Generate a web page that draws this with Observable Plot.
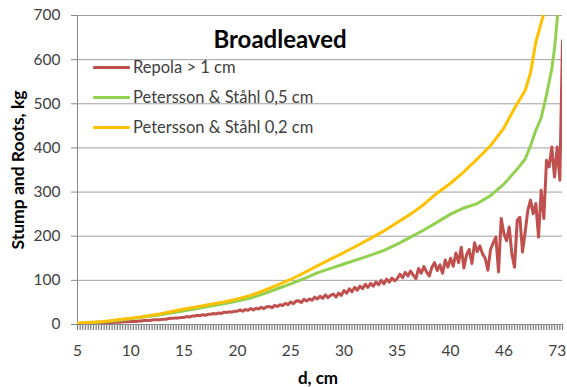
<!DOCTYPE html>
<html>
<head>
<meta charset="utf-8">
<script src="https://cdn.jsdelivr.net/npm/d3@7"></script>
<script src="https://cdn.jsdelivr.net/npm/@observablehq/plot@0.6"></script>
<style>
  body { margin: 0; background: #fff; }
  #chart { position: relative; width: 567px; height: 387px; font-family: Lato, "Open Sans", sans-serif; color: #404040; }
  #chart svg { display: block; }
  .title { position: absolute; left: 280px; top: 38px; transform: translate(-50%, -50%); font-weight: bold; font-size: 24px; color: #000; white-space: nowrap; }
  .ylab { position: absolute; left: 17px; top: 170px; transform: translate(-50%, -50%) rotate(-90deg); font-weight: bold; font-size: 17.5px; color: #000; white-space: nowrap; }
  .xlab { position: absolute; left: 318px; top: 377px; transform: translate(-50%, -50%); font-weight: bold; font-size: 17px; color: #000; white-space: nowrap; }
  .legend { position: absolute; left: 93px; top: 52px; font-size: 16.5px; color: #404040; }
  .legend .row { display: flex; align-items: center; height: 30px; white-space: nowrap; }
  .legend .sw { width: 37px; height: 3px; margin-right: 3px; border-radius: 1px; }
</style>
</head>
<body>
<div id="chart"></div>
<script>
// Diameter classes along the category axis; a tick label every 20 classes
const dTickLabels = ["5", "10", "15", "20", "25", "30", "35", "40", "46", "73"];
const classCount = 183;
const yTicks = [0, 100, 200, 300, 400, 500, 600, 700];

// Repola > 1 cm, stump and roots (kg) for each diameter class
const repola = [
  1, 1, 1, 2, 2, 2, 2, 3, 3, 3, 3, 4, 4, 4, 5, 5, 5, 6, 6, 6,
  7, 7, 7, 8, 8, 9, 9, 9, 10, 11, 11, 11, 12, 12, 13, 14, 14, 15, 15, 16,
  16, 18, 17, 19, 19, 21, 20, 22, 21, 23, 23, 25, 24, 26, 25, 28, 27, 29, 28, 30,
  30, 33, 30, 34, 32, 36, 33, 37, 35, 39, 36, 40, 41, 38, 43, 41, 45, 43, 48, 45,
  51, 47, 53, 54, 50, 57, 53, 58, 55, 62, 58, 64, 59, 67, 61, 66, 69, 62, 71, 66,
  77, 71, 81, 74, 84, 78, 87, 81, 91, 84, 93, 87, 96, 90, 100, 92, 103, 96, 105, 99,
  104, 114, 106, 118, 110, 121, 112, 104, 127, 116, 131, 119, 110, 130, 140, 122, 135, 116, 146, 130,
  150, 132, 162, 140, 175, 128, 158, 170, 138, 185, 165,
  178, 160, 150, 123, 170, 185, 198, 119, 240, 206, 190, 221, 160, 130, 236, 243,
  164, 210, 259, 282, 251, 274, 198, 304, 240, 372, 357, 402, 334, 402, 327, 643
];

// Petersson & Ståhl 0,5 cm
const ps05Class = [0, 5, 10, 15, 20, 25, 30, 35, 40, 45, 50, 55, 60, 65, 70, 75, 80, 85, 90, 95,
  100, 105, 110, 115, 120, 125, 130, 135, 140, 145, 150, 155, 160, 165, 168, 170, 172, 174, 176, 178, 179, 180, 181];
const ps05Kg = [2, 4, 6, 9, 13, 17, 21, 26, 31, 36, 42, 47, 53, 60, 70, 81, 92, 104, 117, 127,
  137, 147, 157, 168, 182, 198, 214, 232, 250, 264, 274, 292, 318, 352, 375, 405, 440, 468, 520, 580, 625, 690, 760];

// Petersson & Ståhl 0,2 cm
const ps02Class = [0, 5, 10, 15, 20, 25, 30, 35, 40, 45, 50, 55, 60, 65, 70, 75, 80, 85, 90, 95,
  100, 105, 110, 115, 120, 125, 130, 135, 140, 145, 150, 155, 160, 164, 168, 170, 172, 175];
const ps02Kg = [3, 5, 7, 11, 14, 18, 23, 29, 35, 40, 46, 51, 58, 66, 77, 89, 102, 117, 133, 148,
  163, 179, 195, 212, 231, 250, 272, 298, 320, 346, 375, 405, 445, 490, 530, 570, 640, 705];

const colors = { repola: "#C0504D", ps05: "#92D050", ps02: "#FFC000" };
const classIndex = d3.range(classCount);
const tickText = i => (i % 20 === 0 && dTickLabels[i / 20] !== undefined) ? dTickLabels[i / 20] : "";

const svg = Plot.plot({
  width: 567,
  height: 387,
  marginLeft: 77,
  marginRight: 5,
  marginTop: 15,
  marginBottom: 63,
  style: { fontFamily: "Lato, 'Open Sans', sans-serif", fontSize: "15.5px", color: "#404040", background: "white" },
  x: { domain: [0, classCount - 1] },
  y: { domain: [0, 700] },
  marks: [
    Plot.gridY(yTicks.slice(1), { stroke: "#a0a0a0", strokeOpacity: 1 }),
    Plot.axisY(yTicks, { tickSize: 6, tickPadding: 11, stroke: "#888", label: null }),
    Plot.axisX(classIndex, { tickSize: 6, tickPadding: 14, stroke: "#7a7a7a", strokeWidth: 1.2, tickFormat: tickText, label: null }),
    Plot.ruleX([0], { stroke: "#888" }),
    Plot.ruleY([0], { stroke: "#888" }),
    Plot.line(repola, { x: (d, i) => i, y: d => d, stroke: colors.repola, strokeWidth: 3, clip: true }),
    Plot.line(ps05Kg, { x: ps05Class, y: ps05Kg, stroke: colors.ps05, strokeWidth: 3, clip: true }),
    Plot.line(ps02Kg, { x: ps02Class, y: ps02Kg, stroke: colors.ps02, strokeWidth: 3, clip: true })
  ]
});

const chart = document.getElementById("chart");
chart.appendChild(svg);

const add = (cls, text) => {
  const el = document.createElement("div");
  el.className = cls;
  el.textContent = text;
  chart.appendChild(el);
  return el;
};
add("title", "Broadleaved");
add("ylab", "Stump and Roots, kg");
add("xlab", "d, cm");

const legend = document.createElement("div");
legend.className = "legend";
[["Repola > 1 cm", colors.repola], ["Petersson & Ståhl 0,5 cm", colors.ps05], ["Petersson & Ståhl 0,2 cm", colors.ps02]]
  .forEach(([label, color]) => {
    const row = document.createElement("div");
    row.className = "row";
    const sw = document.createElement("span");
    sw.className = "sw";
    sw.style.background = color;
    const tx = document.createElement("span");
    tx.textContent = label;
    row.appendChild(sw);
    row.appendChild(tx);
    legend.appendChild(row);
  });
chart.appendChild(legend);
</script>
</body>
</html>
